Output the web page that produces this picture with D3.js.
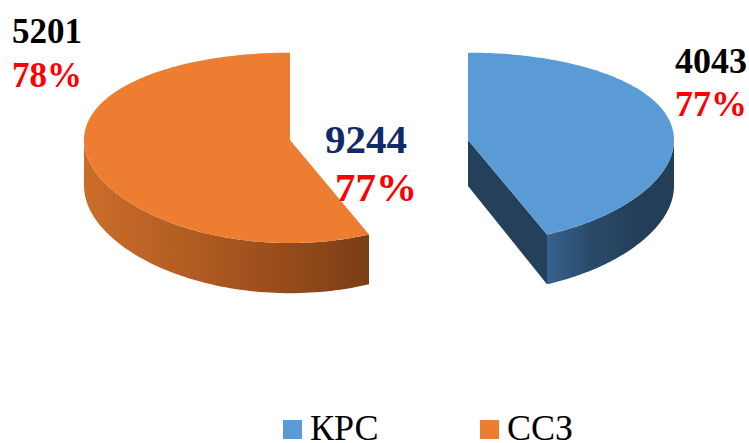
<!DOCTYPE html>
<html>
<head>
<meta charset="utf-8">
<script src="https://cdn.jsdelivr.net/npm/d3@7"></script>
<style>
  html, body { margin: 0; padding: 0; background: #ffffff; }
  svg { display: block; }
  text { font-family: "Liberation Serif", "Times New Roman", serif; }
</style>
</head>
<body>
<svg id="chart" width="749" height="443"></svg>
<script>
// Categories and values
const categories = ["КРС", "ССЗ"];
const values = [4043, 5201];
const shares = ["77%", "78%"];
const totalLabel = "9244";
const totalShare = "77%";

const topColors = ["#5b9bd5", "#ed7d31"];
// side-wall shading stops (left → right across each wall)
const wallStops = [
  ["#36628d", "#2b4b6d", "#243f59", "#233e57"],
  ["#cc6d2a", "#b45e23", "#9a4d1b", "#7b3e15"]
];
const cutColors = ["#25405b", "#c96a29"];

const svg = d3.select("#chart");

// 3D geometry of the exploded pie
const cx0 = 379, cy0 = 140;
const R = 206, K = 0.459, P = 0.0004, H = 46, explode = 89;
const firstAngle = 0;   // angle of the first slice (12 o'clock)

const color = d3.scaleOrdinal().domain(categories).range(topColors);

const pie = d3.pie().sort(null)
  .startAngle(firstAngle)
  .endAngle(firstAngle + 2 * Math.PI)
  .value(d => d.value);

const data = categories.map((c, i) => ({ name: c, value: values[i], idx: i }));
const arcs = pie(data);

// project a point given in pie-plane coordinates (u right, dd back, z up);
// depth only foreshortens the vertical direction
function project(u, dd, z) {
  const s = 1 / (1 + P * dd);
  return [cx0 + u, cy0 + (-dd * K - z) * s];
}

function slicePoint(a, cu, cd, z) {
  return project(cu + R * Math.sin(a), cd + R * Math.cos(a), z);
}

const defs = svg.append("defs");
const line = d3.line();

arcs.forEach(a => {
  const i = a.data.idx;
  const mid = (a.startAngle + a.endAngle) / 2;
  // slices are pulled apart sideways
  const cu = explode * Math.sign(Math.sin(mid)), cd = 0;
  const g = svg.append("g").attr("class", "slice-" + i);

  // outer wall: front-facing part only
  const w0 = Math.max(a.startAngle, Math.PI / 2);
  const w1 = Math.min(a.endAngle, 3 * Math.PI / 2);
  if (w1 > w0) {
    const n = 80;
    const topPts = d3.range(n + 1).map(k => slicePoint(w0 + (w1 - w0) * k / n, cu, cd, 0));
    const botPts = d3.range(n + 1).map(k => slicePoint(w0 + (w1 - w0) * k / n, cu, cd, -H)).reverse();
    const pts = topPts.concat(botPts);
    const xs = pts.map(p => p[0]);
    const gid = "wall" + i;
    const grad = defs.append("linearGradient").attr("id", gid)
      .attr("gradientUnits", "userSpaceOnUse")
      .attr("x1", d3.min(xs)).attr("x2", d3.max(xs)).attr("y1", 0).attr("y2", 0);
    wallStops[i].forEach((c, k, arr) => {
      grad.append("stop").attr("offset", k / (arr.length - 1)).attr("stop-color", c);
    });
    g.append("path").attr("d", line(pts) + "Z").attr("fill", `url(#${gid})`);
  }

  // radial cut faces that face the viewer
  [[a.startAngle, a.startAngle - Math.PI / 2], [a.endAngle, a.endAngle + Math.PI / 2]].forEach(([ang, normal]) => {
    if (Math.cos(normal) < 1e-6) {
      const pts = [
        project(cu, cd, 0),
        slicePoint(ang, cu, cd, 0),
        slicePoint(ang, cu, cd, -H),
        project(cu, cd, -H)
      ];
      g.append("path").attr("d", line(pts) + "Z").attr("fill", cutColors[i]);
    }
  });

  // top face
  const n = 160;
  const pts = [project(cu, cd, 0)].concat(
    d3.range(n + 1).map(k => slicePoint(a.startAngle + (a.endAngle - a.startAngle) * k / n, cu, cd, 0))
  );
  g.append("path").attr("d", line(pts) + "Z").attr("fill", color(a.data.name));
});

// value labels
const labels = [
  { text: String(values[1]), x: 12, y: 43, size: 35, fill: "#000000" },
  { text: shares[1], x: 12, y: 87, size: 35, fill: "#ff0000" },
  { text: String(values[0]), x: 675, y: 73, size: 36, fill: "#000000" },
  { text: shares[0], x: 675, y: 116, size: 36, fill: "#ff0000" },
  { text: totalLabel, x: 325, y: 153, size: 41, fill: "#0f2b68" },
  { text: totalShare, x: 335, y: 201, size: 41, fill: "#ff0000" }
];
svg.append("g").selectAll("text").data(labels).join("text")
  .attr("x", d => d.x).attr("y", d => d.y)
  .attr("font-size", d => d.size).attr("font-weight", "bold")
  .attr("fill", d => d.fill).text(d => d.text);

// legend
const legendX = d3.scalePoint().domain(categories).range([283, 480]);
const lg = svg.append("g").selectAll("g").data(categories).join("g")
  .attr("transform", d => `translate(${legendX(d)},420)`);
lg.append("rect").attr("width", 19).attr("height", 19).attr("fill", d => color(d));
lg.append("text").attr("x", 27).attr("y", 20).attr("font-size", 36)
  .attr("fill", "#000000").text(d => d);
</script>
</body>
</html>
